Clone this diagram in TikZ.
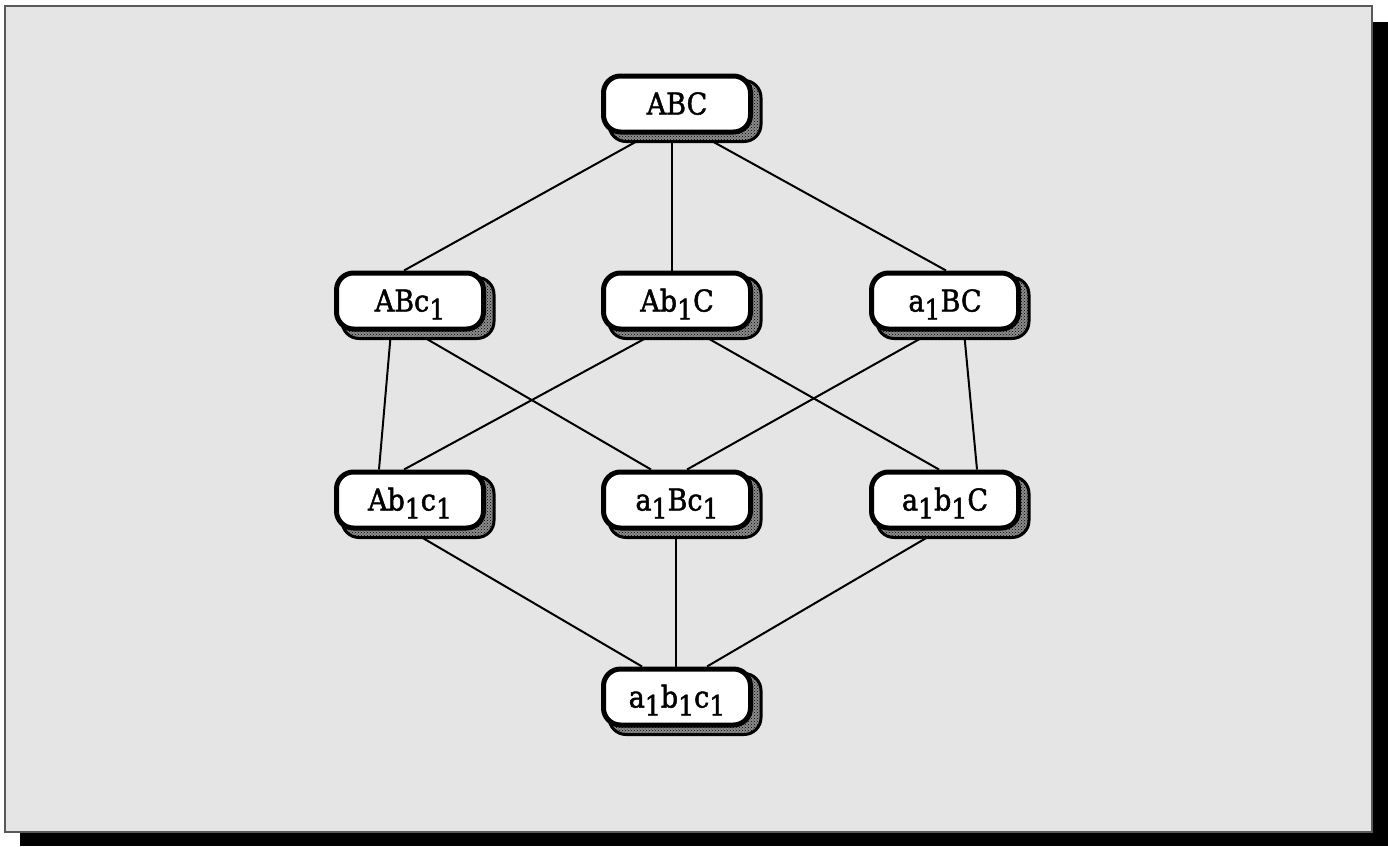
\documentclass[tikz,border=0pt]{standalone}
\usepackage{fontspec}
\setmainfont[FakeBold=1.6]{DejaVu Serif Condensed}
\usetikzlibrary{patterns}
\pgfdeclarelayer{panel}
\pgfdeclarelayer{edges}
\pgfdeclarelayer{shadowlayer}
\pgfsetlayers{panel,edges,shadowlayer,main}
\newcommand\lowone{\raisebox{-8pt}{\fontsize{28pt}{30pt}\selectfont 1}}
\begin{document}
\begin{tikzpicture}[x=1pt,y=-1pt,
  lat/.style={draw=black, line width=5pt, fill=white, rounded corners=17pt,
    minimum width=147pt, minimum height=56pt, inner sep=0pt,
    text height=21pt, text depth=0pt, font=\fontsize{30pt}{33pt}\selectfont},
  shadowbox/.style={draw=black, line width=3pt, rounded corners=17pt,
    preaction={fill=black!45}, pattern=crosshatch dots, pattern color=black},
  edge/.style={line width=2pt, draw=black}]
\useasboundingbox (0,0) rectangle (1388,846);
\begin{pgfonlayer}{panel}
\fill[black] (20,22) rectangle (1388,846);
\draw[fill=black!10, draw=black!65, line width=2pt] (5,6) rectangle (1372,832);
\end{pgfonlayer}
\node[lat] (abc) at (677,104) {ABC\hspace{18pt}};
\node[lat] (abc1) at (410,301) {ABc\lowone\hspace{20pt}};
\node[lat] (ab1c) at (677,301) {Ab\lowone C};
\node[lat] (a1bc) at (945,301) {a\lowone BC};
\node[lat] (ab1c1) at (410,500) {Ab\lowone c\lowone\hspace{16pt}};
\node[lat] (a1bc1) at (677,500) {a\lowone Bc\lowone};
\node[lat] (a1b1c) at (945,500) {a\lowone b\lowone C};
\node[lat] (a1b1c1) at (677,697) {a\lowone b\lowone c\lowone};
\begin{pgfonlayer}{shadowlayer}
\foreach \n in {abc,abc1,ab1c,a1bc,ab1c1,a1bc1,a1b1c,a1b1c1}
  \path[shadowbox] ([xshift=8pt,yshift=-7pt]\n.south west) rectangle ([xshift=8pt,yshift=-7pt]\n.north east);
\end{pgfonlayer}
\begin{pgfonlayer}{edges}
\draw[edge] ([xshift=-28pt]abc.south) -- ([xshift=-6pt]abc1.north);
\draw[edge] ([xshift=-5pt]abc.south) -- ([xshift=-5pt]ab1c.north);
\draw[edge] ([xshift=23pt]abc.south) -- ([xshift=1pt]a1bc.north);
\draw[edge] ([xshift=-19pt]abc1.south) -- ([xshift=-31pt]ab1c1.north);
\draw[edge] ([xshift=4pt]abc1.south) -- ([xshift=-26pt]a1bc1.north);
\draw[edge] ([xshift=-19pt]ab1c.south) -- ([xshift=-6pt]ab1c1.north);
\draw[edge] ([xshift=19pt]ab1c.south) -- ([xshift=-6pt]a1b1c.north);
\draw[edge] ([xshift=-12pt]a1bc.south) -- ([xshift=10pt]a1bc1.north);
\draw[edge] ([xshift=19pt]a1bc.south) -- ([xshift=32pt]a1b1c.north);
\draw[edge] ([xshift=0pt]ab1c1.south) -- ([xshift=-35pt]a1b1c1.north);
\draw[edge] ([xshift=-1pt]a1bc1.south) -- ([xshift=-1pt]a1b1c1.north);
\draw[edge] ([xshift=-6pt]a1b1c.south) -- ([xshift=30pt]a1b1c1.north);
\end{pgfonlayer}
\end{tikzpicture}
\end{document}
